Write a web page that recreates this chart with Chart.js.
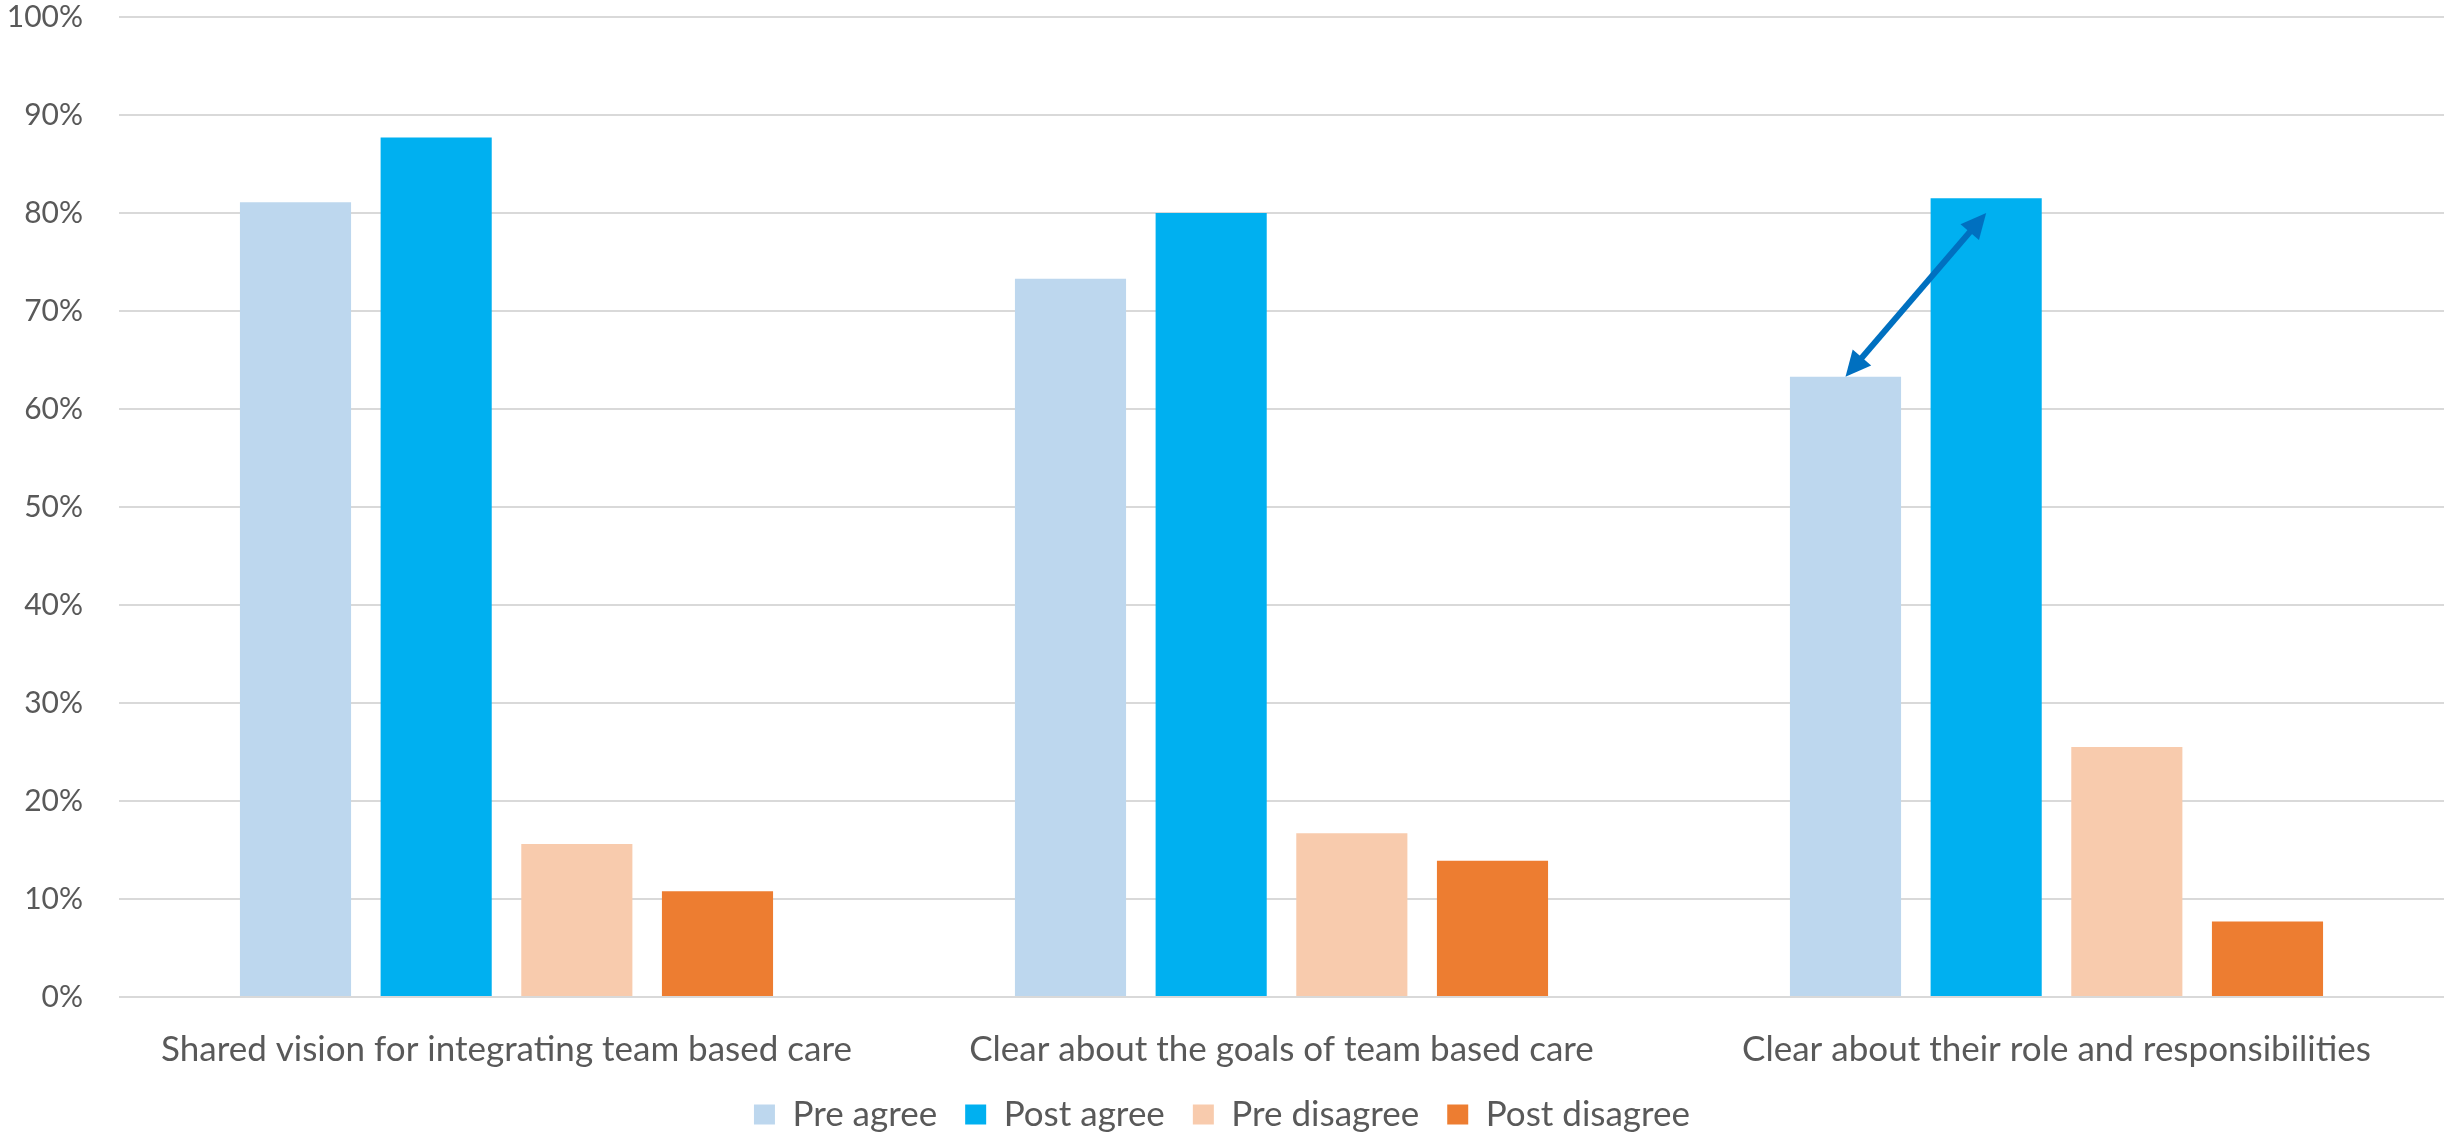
<!DOCTYPE html>
<html lang="en">
<head>
  <meta charset="UTF-8">
  <title>Pre / post agreement</title>
  <script src="https://cdn.jsdelivr.net/npm/chart.js"></script>
  <style>
    html, body { margin: 0; padding: 0; background: #fff; }
    canvas { display: block; }
  </style>
</head>
<body>
  <canvas id="myChart" width="2451" height="1134"></canvas>

  <script>
    // data (percent)
    const categories = [
      'Shared vision for integrating team based care',
      'Clear about the goals of team based care',
      'Clear about their role and responsibilities'
    ];
    const preAgree = [81.1, 73.3, 63.3];
    const postAgree = [87.7, 80.0, 81.5];
    const preDisagree = [15.6, 16.7, 25.5];
    const postDisagree = [10.8, 13.9, 7.7];
    const yTicks = [0, 10, 20, 30, 40, 50, 60, 70, 80, 90, 100];

    // the arrow on the third group goes from pre agree top up to this value
    const arrowTo = 80;
    const arrowGroup = 2;

    const textColor = '#595959';
    const fontFamily = "Lato, 'Open Sans', sans-serif";

    // double headed arrow between the two agree bars
    const arrowPlugin = {
      id: 'arrow',
      afterDatasetsDraw(chart) {
        const ctx = chart.ctx;
        const from = chart.getDatasetMeta(0).data[arrowGroup];
        const to = chart.getDatasetMeta(1).data[arrowGroup];
        const x1 = from.x, y1 = from.y;
        const x2 = to.x, y2 = chart.scales.y.getPixelForValue(arrowTo);
        const ang = Math.atan2(y2 - y1, x2 - x1);
        const head = 28, spread = 0.45;

        ctx.save();
        ctx.strokeStyle = '#0070C0';
        ctx.fillStyle = '#0070C0';
        ctx.lineWidth = 6;
        ctx.beginPath();
        ctx.moveTo(x1 + Math.cos(ang) * head * 0.8, y1 + Math.sin(ang) * head * 0.8);
        ctx.lineTo(x2 - Math.cos(ang) * head * 0.8, y2 - Math.sin(ang) * head * 0.8);
        ctx.stroke();

        function drawHead(x, y, a) {
          ctx.beginPath();
          ctx.moveTo(x, y);
          ctx.lineTo(x - head * Math.cos(a - spread), y - head * Math.sin(a - spread));
          ctx.lineTo(x - head * Math.cos(a + spread), y - head * Math.sin(a + spread));
          ctx.closePath();
          ctx.fill();
        }
        drawHead(x2, y2, ang);
        drawHead(x1, y1, ang + Math.PI);
        ctx.restore();
      }
    };

    const ctx = document.getElementById('myChart').getContext('2d');

    new Chart(ctx, {
      type: 'bar',
      data: {
        labels: categories,
        datasets: [
          { label: 'Pre agree', data: preAgree, backgroundColor: '#BDD7EE' },
          { label: 'Post agree', data: postAgree, backgroundColor: '#00B0F0' },
          { label: 'Pre disagree', data: preDisagree, backgroundColor: '#F8CBAD' },
          { label: 'Post disagree', data: postDisagree, backgroundColor: '#ED7D31' }
        ]
      },
      options: {
        responsive: false,
        animation: false,
        devicePixelRatio: 1,
        categoryPercentage: 0.726,
        barPercentage: 0.79,
        layout: {
          padding: { top: 0, right: 7, bottom: -8, left: 0 }
        },
        scales: {
          x: {
            grid: { display: false },
            border: { display: false },
            ticks: {
              color: textColor,
              padding: 24,
              maxRotation: 0,
              font: { family: fontFamily, size: 35 }
            },
            afterFit(scale) {
              // tall enough that the descenders are not clipped
              scale.height = 72;
            }
          },
          y: {
            min: 0,
            max: 100,
            border: { display: false },
            grid: {
              color: '#D9D9D9',
              lineWidth: 2,
              drawTicks: false
            },
            afterBuildTicks(scale) {
              scale.ticks = yTicks.map(v => ({ value: v }));
            },
            ticks: {
              color: textColor,
              padding: 36,
              font: { family: fontFamily, size: 30 },
              callback: v => v + '%'
            },
            afterFit(scale) {
              scale.width = 119;
              scale.paddingTop = 17;
              scale.paddingBottom = 0;
            }
          }
        },
        plugins: {
          legend: {
            position: 'bottom',
            labels: {
              color: textColor,
              boxWidth: 21,
              boxHeight: 20,
              padding: 28,
              font: { family: fontFamily, size: 35 }
            }
          },
          tooltip: { enabled: false }
        }
      },
      plugins: [arrowPlugin]
    });
  </script>
</body>
</html>
